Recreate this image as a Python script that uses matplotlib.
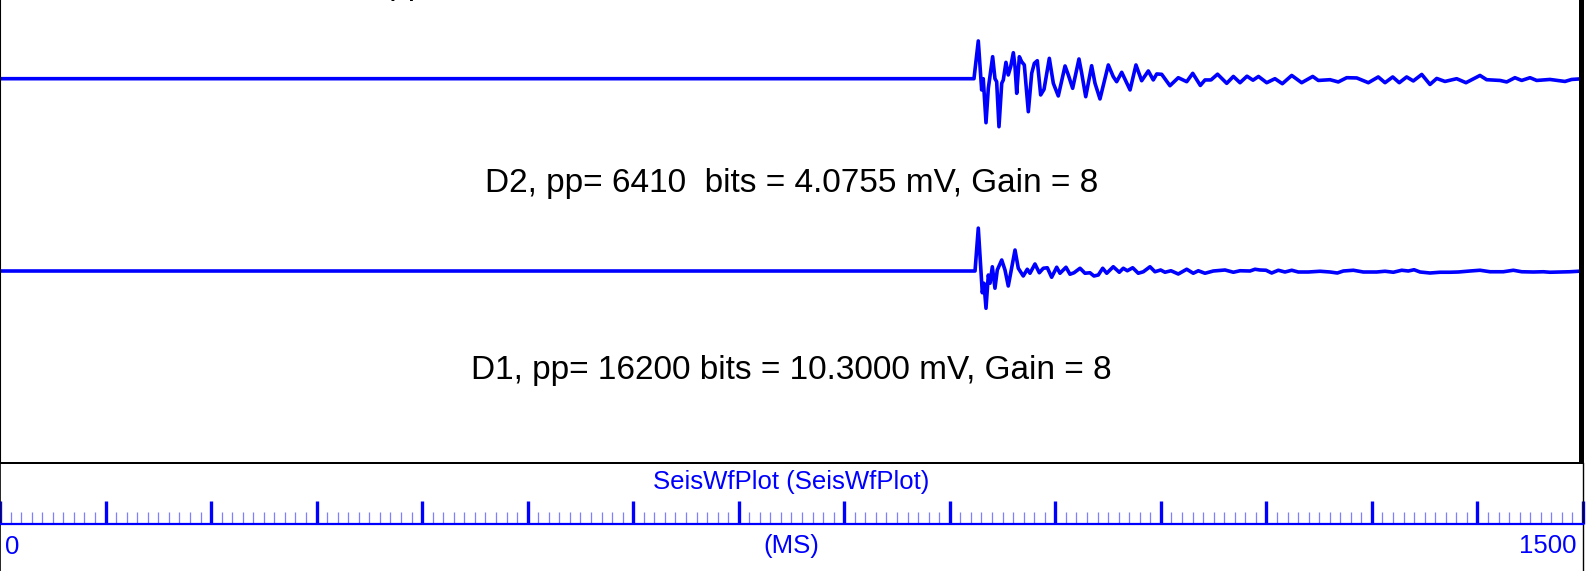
import numpy as np
import matplotlib.pyplot as plt
from matplotlib.ticker import MultipleLocator

plt.rcParams['font.family'] = ['Liberation Sans', 'DejaVu Sans']

BLUE = '#0000ff'
BITS_PER_ROW = 80.0      # vertical trace scale (bits per screen row)
MV_PER_BIT = 4.0755 / 6410

# D3 trace (top), time in ms and amplitude in bits
t_d3 = [0, 922.9, 927.0, 930.2, 931.7, 934.3, 936.5, 940.6, 942.8, 944.4,
        946.6, 949.2, 950.7, 953.2, 955.4, 957.7, 960.2, 961.8, 963.4, 965.9,
        968.1, 970.6, 974.4, 977.6, 980.1, 982.9, 986.1, 989.3, 994.3, 998.1,
        1002.8, 1009.2, 1012.3, 1016.4, 1022.4, 1025.0, 1028.8, 1034.4, 1037.6, 1042.3,
        1050.2, 1054.9, 1058.1, 1062.9, 1070.8, 1076.4, 1081.8, 1088.1, 1092.8, 1096.1,
        1100.8, 1108.6, 1116.5, 1124.5, 1130.2, 1137.4, 1141.8, 1147.5, 1153.7, 1162.4,
        1168.7, 1175.0, 1181.6, 1187.3, 1192.5, 1200.3, 1208.1, 1215.1, 1224.0, 1233.4,
        1243.9, 1249.2, 1260.3, 1268.1, 1276.1, 1285.6, 1296.6, 1306.0, 1312.4, 1319.7,
        1325.9, 1332.9, 1339.2, 1347.2, 1355.0, 1361.4, 1369.2, 1380.3, 1389.1, 1402.4,
        1408.7, 1421.4, 1427.7, 1435.5, 1441.9, 1449.8, 1456.1, 1468.7, 1482.9, 1489.3,
        1500]
a_d3 = [0, 0, 3020, -900, 0, -3520, -770, 1760, 0, -240,
        -3840, -370, -100, 1310, 300, 960, 2080, 960, -1170, 1760,
        1360, 1100, -2640, 430, 1230, 1440, -1300, -850, 1630, -370,
        -1380, 1020, 300, -770, 1580, 430, -1440, 1040, -370, -1620,
        1100, 160, -240, 510, -900, 1100, -160, 620, -100, 380,
        350, -560, 80, -240, 430, -540, -100, -100, 360, -370,
        180, -320, 200, -120, 180, -320, 0, -400, 260, -320,
        180, -140, -80, -260, 80, 60, -320, 140, -320, 140,
        -320, 140, -180, 340, -460, 20, -220, 0, -320, 260,
        -80, -140, -260, 80, -140, 80, -140, -60, -220, -60,
        0]

# D2 trace
t_d2 = [0, 923.9, 927.0, 930.8, 932.4, 934.3, 936.5, 938.1, 940.3, 942.8,
        945.0, 949.2, 952.3, 955.4, 961.8, 964.9, 969.6, 973.4, 976.0, 980.7,
        984.8, 988.6, 992.4, 996.5, 1001.3, 1004.4, 1010.1, 1013.9, 1017.7, 1023.4,
        1028.1, 1032.8, 1036.6, 1040.7, 1044.9, 1048.7, 1054.9, 1060.6, 1064.4, 1068.2,
        1073.3, 1078.6, 1083.4, 1089.7, 1094.4, 1099.8, 1103.9, 1109.6, 1116.5, 1124.5,
        1130.7, 1135.5, 1141.8, 1149.7, 1160.8, 1168.7, 1175.0, 1184.5, 1189.2, 1193.9,
        1199.6, 1205.0, 1211.3, 1217.6, 1224.0, 1230.2, 1239.7, 1250.8, 1260.3, 1267.2,
        1272.9, 1282.4, 1291.8, 1304.5, 1312.4, 1320.3, 1328.2, 1334.5, 1339.9, 1345.6,
        1355.0, 1364.5, 1374.0, 1381.9, 1392.9, 1402.4, 1411.9, 1424.5, 1434.0, 1441.9,
        1452.9, 1462.4, 1468.7, 1478.2, 1487.7, 1500]
a_d2 = [0, 0, 3430, -1740, -980, -2980, -320, -980, 340, -1380,
        80, 880, 80, -1200, 1680, 220, -400, 140, -180, 560,
        -140, 220, 260, -500, 300, -180, 300, -260, -140, 220,
        -180, -140, -400, -320, 220, -180, 340, -100, 220, 20,
        260, -180, -60, 340, -60, 80, -100, 20, -240, 140,
        -180, 20, -180, 0, 80, -100, 20, 0, 140, 80,
        60, -160, 60, -80, 60, -80, -80, -20, -80, -160,
        0, 60, -80, -80, -20, -100, 60, 0, 100, -80,
        -160, -100, -100, -80, 0, 60, -60, -60, 60, -60,
        -80, -60, -100, -80, -60, 0]

channels = ['D3', 'D2', 'D1']
pp_bits = [int(max(a_d3) - min(a_d3)), int(max(a_d2) - min(a_d2)), 16200]
gains = [8, 8, 8]


def label(name, pp, gain):
    mv = 10.3 if name == 'D1' else pp * MV_PER_BIT
    return f'{name}, pp= {pp:<5d} bits = {mv:.4f} mV, Gain = {gain}'


fig = plt.figure(figsize=(15.92, 5.71), dpi=100)
W = 1583 / 1592
H_AX = 108 / 571

# waveform panel, y measured in screen rows from the top
ax = fig.add_axes([0, H_AX, W, 1 - H_AX])
ax.set_xlim(0, 1500)
ax.set_ylim(463, 0)
ax.set_xticks([])
ax.set_yticks([])
ax.spines['top'].set_visible(False)
ax.spines['bottom'].set_visible(False)
ax.spines['left'].set_linewidth(1.5)
ax.spines['right'].set_linewidth(3.6)
ax.spines['right'].set_position(('outward', -1.8))

for t, a, row in [(t_d3, a_d3, 78.7), (t_d2, a_d2, 271)]:
    ax.plot(t, row - np.array(a) / BITS_PER_ROW, color=BLUE, lw=2.6,
            solid_joinstyle='round', solid_capstyle='round')

ax.text(311, -6, label(channels[0], pp_bits[0], gains[0]), fontsize=24,
        ha='left', va='baseline', clip_on=False)
ax.text(750, 192, label(channels[1], pp_bits[1], gains[1]), fontsize=24,
        ha='center', va='baseline')
ax.text(750, 379, label(channels[2], pp_bits[2], gains[2]), fontsize=24,
        ha='center', va='baseline')

# time axis panel
bx = fig.add_axes([0, 0, W, H_AX])
bx.set_xlim(0, 1500)
bx.set_ylim(571, 463)
bx.set_yticks([])
bx.spines['top'].set_linewidth(1.44)
bx.spines['left'].set_linewidth(1.2)
bx.spines['right'].set_linewidth(1.0)
bx.spines['bottom'].set_position(('data', 524))
bx.spines['bottom'].set_color(BLUE)
bx.spines['bottom'].set_linewidth(1.6)
bx.xaxis.set_major_locator(MultipleLocator(100))
bx.xaxis.set_minor_locator(MultipleLocator(10))
bx.tick_params(axis='x', which='major', direction='in', length=16.5,
               width=2.4, color=BLUE, labelbottom=False)
bx.tick_params(axis='x', which='minor', direction='in', length=8.5,
               width=0.9, color='#7f7fff')

bx.text(750, 482, 'SeisWfPlot (SeisWfPlot)', fontsize=18.5, color=BLUE,
        ha='center', va='center')
bx.text(750, 546, '(MS)', fontsize=18.5, color=BLUE, ha='center', va='center')
bx.text(4.7, 547, '0', fontsize=18.5, color=BLUE, ha='left', va='center')
bx.text(1494.3, 546, '1500', fontsize=18.5, color=BLUE, ha='right', va='center')

fig.savefig('out.png', dpi=100)
